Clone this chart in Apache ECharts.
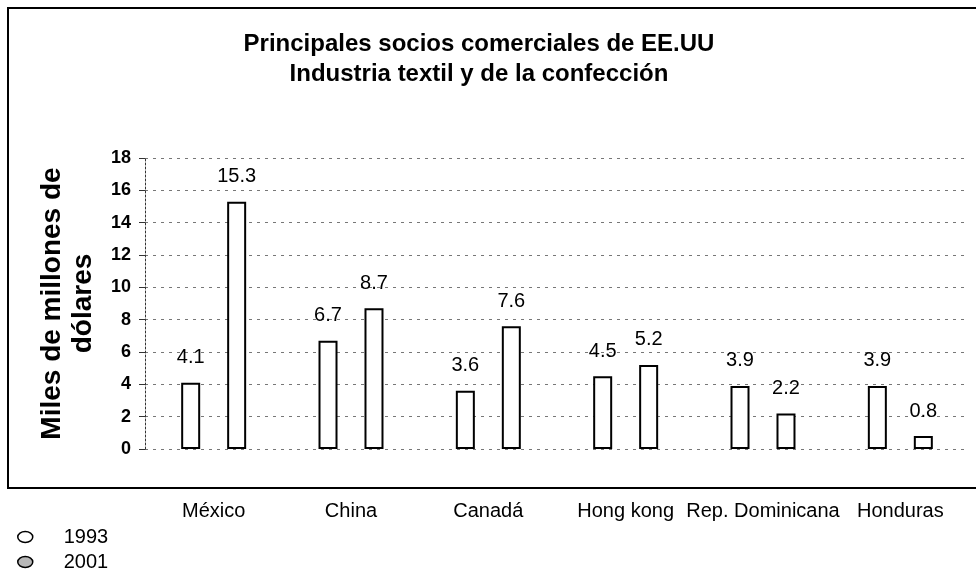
<!DOCTYPE html>
<html>
<head>
<meta charset="utf-8">
<script src="https://cdn.jsdelivr.net/npm/echarts@6/dist/echarts.min.js"></script>
<style>html,body{margin:0;padding:0;background:#fff}#c{width:976px;height:571px}</style>
</head>
<body>
<div id="c"></div>
<script>
const categories = ['México', 'China', 'Canadá', 'Hong kong', 'Rep. Dominicana', 'Honduras'];
const values1993 = [4.1, 6.7, 3.6, 4.5, 3.9, 3.9];
const values2001 = [15.3, 8.7, 7.6, 5.2, 2.2, 0.8];
const seriesNames = ['1993', '2001'];
const titleText = 'Principales socios comerciales de EE.UU\nIndustria textil y de la confección';
const yAxisName = 'Miles de millones de\ndólares';

const FONT = '"Liberation Sans", Arial, sans-serif';
const chart = echarts.init(document.getElementById('c'), null, {renderer: 'canvas'});

const barLabel = {
  show: true, position: 'top', distance: 15,
  fontFamily: FONT, fontSize: 20, color: '#000'
};
const barStyle = {color: '#ffffff', borderColor: '#000000', borderWidth: 2};
const ellipseIcon = 'path://M0,5.5A7.5,5.5 0 1,0 15,5.5A7.5,5.5 0 1,0 0,5.5Z';

chart.setOption({
  backgroundColor: '#ffffff',
  animation: false,
  textStyle: {fontFamily: FONT},
  title: {
    text: titleText,
    left: 474, top: 24, textAlign: 'center',
    textStyle: {fontFamily: FONT, fontSize: 24, fontWeight: 'bold', color: '#000', lineHeight: 30}
  },
  graphic: [{
    type: 'polyline', z: 100,
    shape: {points: [[976, 8], [8, 8], [8, 488], [976, 488]]},
    style: {stroke: '#000', lineWidth: 2, fill: null}
  }],
  legend: {
    orient: 'vertical', left: 17, top: 527, height: 46,
    itemWidth: 15, itemHeight: 11, itemGap: 5, padding: 0,
    icon: ellipseIcon,
    textStyle: {fontFamily: FONT, fontSize: 20, color: '#000', padding: [0, 0, 0, 26]},
    data: [
      {name: seriesNames[0], itemStyle: {borderWidth: 1.5}},
      {name: seriesNames[1], itemStyle: {color: '#b8b8b8', borderColor: '#000', borderWidth: 1.5}}
    ]
  },
  grid: {left: 145, top: 158, width: 824, bottom: 122, containLabel: false},
  xAxis: {
    type: 'category', data: categories,
    axisLine: {show: false}, axisTick: {show: false},
    axisLabel: {margin: 52, fontFamily: FONT, fontSize: 20, color: '#000', interval: 0}
  },
  yAxis: {
    type: 'value', min: 0, max: 18, interval: 2,
    name: yAxisName, nameLocation: 'middle', nameRotate: 90, nameGap: 46,
    nameTextStyle: {fontFamily: FONT, fontSize: 28, fontWeight: 'bold', color: '#000', lineHeight: 31},
    axisLine: {show: true, lineStyle: {color: '#333', type: [2, 2], width: 1}},
    axisTick: {show: true, length: 6, lineStyle: {color: '#333'}},
    axisLabel: {margin: 14, fontFamily: FONT, fontSize: 18, fontWeight: 'bold', color: '#000'},
    splitLine: {show: true, lineStyle: {color: '#777', type: [3, 5], width: 1}}
  },
  series: [
    {name: seriesNames[0], type: 'bar', data: values1993, barWidth: 19, barGap: '142%',
     itemStyle: barStyle, label: barLabel},
    {name: seriesNames[1], type: 'bar', data: values2001, barWidth: 19, barGap: '142%',
     itemStyle: barStyle, label: barLabel}
  ]
});
</script>
</body>
</html>
